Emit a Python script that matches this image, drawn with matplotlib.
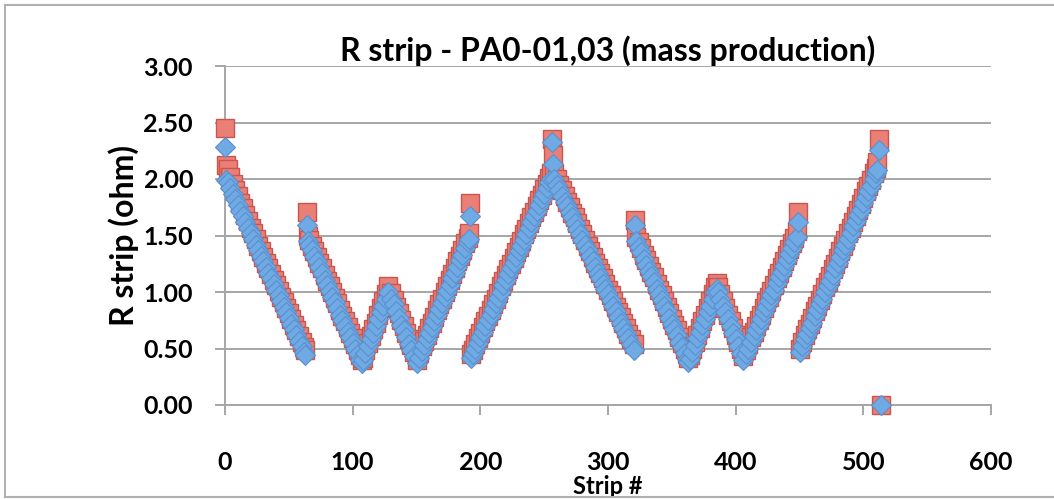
import matplotlib.pyplot as plt
from matplotlib.lines import Line2D

# strip numbers (every 2nd strip, plus the outlier strips at the segment ends)
strips = [0,
          1, 2, 4, 6, 8, 10, 12, 14, 16, 18, 20, 22, 24, 26, 28, 30, 32, 34, 36, 38, 40, 42, 44, 46, 48, 50, 52, 54, 56, 58, 60, 62, 63,
          64,
          65, 66, 68, 70, 72, 74, 76, 78, 80, 82, 84, 86, 88, 90, 92, 94, 96, 98, 100, 102, 104, 106, 107,
          108, 110, 112, 114, 116, 118, 120, 122, 124, 126, 128,
          130, 132, 134, 136, 138, 140, 142, 144, 146, 148, 150,
          152, 154, 156, 158, 160, 162, 164, 166, 168, 170, 172, 174, 176, 178, 180, 182, 184, 186, 188, 190, 191,
          192,
          193, 194, 196, 198, 200, 202, 204, 206, 208, 210, 212, 214, 216, 218, 220, 222, 224, 226, 228, 230, 232, 234, 236, 238, 240, 242, 244, 246, 248, 250, 252, 254, 255,
          256, 257,
          258, 260, 262, 264, 266, 268, 270, 272, 274, 276, 278, 280, 282, 284, 286, 288, 290, 292, 294, 296, 298, 300, 302, 304, 306, 308, 310, 312, 314, 316, 318, 320,
          321,
          322, 324, 326, 328, 330, 332, 334, 336, 338, 340, 342, 344, 346, 348, 350, 352, 354, 356, 358, 360, 362, 363,
          364, 366, 368, 370, 372, 374, 376, 378, 380, 382, 384, 385,
          386, 388, 390, 392, 394, 396, 398, 400, 402, 404, 406,
          408, 410, 412, 414, 416, 418, 420, 422, 424, 426, 428, 430, 432, 434, 436, 438, 440, 442, 444, 446, 448,
          449,
          450, 452, 454, 456, 458, 460, 462, 464, 466, 468, 470, 472, 474, 476, 478, 480, 482, 484, 486, 488, 490, 492, 494, 496, 498, 500, 502, 504, 506, 508, 510, 511,
          512, 514]

# PA0-01 (red squares), ohm
r_pa001 = [2.45,
           2.12, 2.09, 2.02, 1.96, 1.90, 1.85, 1.79, 1.74, 1.68, 1.63, 1.57, 1.52, 1.47, 1.41, 1.36, 1.31, 1.26, 1.21, 1.16, 1.11, 1.06, 1.01, 0.96, 0.91, 0.86, 0.81, 0.76, 0.71, 0.66, 0.61, 0.56, 0.51, 0.49,
           1.71,
           1.50, 1.46, 1.41, 1.36, 1.31, 1.26, 1.21, 1.15, 1.10, 1.05, 1.00, 0.95, 0.90, 0.84, 0.79, 0.74, 0.69, 0.64, 0.59, 0.54, 0.49, 0.44, 0.40,
           0.42, 0.49, 0.55, 0.61, 0.67, 0.73, 0.80, 0.86, 0.92, 0.98, 1.05,
           0.99, 0.93, 0.87, 0.81, 0.75, 0.70, 0.64, 0.58, 0.53, 0.47, 0.40,
           0.46, 0.52, 0.57, 0.62, 0.68, 0.73, 0.78, 0.84, 0.89, 0.94, 1.00, 1.05, 1.11, 1.16, 1.21, 1.27, 1.32, 1.37, 1.43, 1.48, 1.52,
           1.79,
           0.45, 0.49, 0.54, 0.59, 0.64, 0.69, 0.74, 0.79, 0.84, 0.89, 0.94, 0.99, 1.05, 1.10, 1.15, 1.20, 1.25, 1.30, 1.35, 1.40, 1.45, 1.51, 1.56, 1.61, 1.66, 1.71, 1.76, 1.81, 1.86, 1.91, 1.96, 2.01, 2.05,
           2.35, 2.21,
           2.05, 2.00, 1.95, 1.90, 1.85, 1.80, 1.75, 1.70, 1.66, 1.61, 1.56, 1.51, 1.46, 1.41, 1.36, 1.31, 1.26, 1.21, 1.17, 1.12, 1.07, 1.02, 0.97, 0.92, 0.87, 0.82, 0.78, 0.73, 0.68, 0.63, 0.58, 0.54,
           1.64,
           1.49, 1.44, 1.39, 1.33, 1.28, 1.23, 1.18, 1.13, 1.07, 1.02, 0.97, 0.92, 0.87, 0.81, 0.76, 0.71, 0.66, 0.60, 0.55, 0.50, 0.45, 0.42,
           0.44, 0.50, 0.56, 0.62, 0.68, 0.74, 0.80, 0.86, 0.92, 0.98, 1.04, 1.08,
           1.04, 0.98, 0.92, 0.86, 0.80, 0.74, 0.68, 0.62, 0.56, 0.50, 0.43,
           0.49, 0.54, 0.60, 0.65, 0.70, 0.75, 0.80, 0.86, 0.91, 0.96, 1.01, 1.06, 1.12, 1.17, 1.22, 1.27, 1.33, 1.38, 1.43, 1.48, 1.54,
           1.71,
           0.50, 0.56, 0.62, 0.67, 0.72, 0.77, 0.83, 0.88, 0.93, 0.98, 1.04, 1.09, 1.14, 1.20, 1.25, 1.30, 1.36, 1.41, 1.46, 1.52, 1.57, 1.62, 1.67, 1.73, 1.78, 1.83, 1.89, 1.94, 1.99, 2.05, 2.10, 2.15,
           2.35, 0.00]

# PA0-03 (blue diamonds), ohm
r_pa003 = [2.28,
           1.99, 1.97, 1.92, 1.87, 1.82, 1.77, 1.72, 1.67, 1.62, 1.57, 1.52, 1.47, 1.42, 1.37, 1.32, 1.27, 1.22, 1.17, 1.12, 1.07, 1.02, 0.97, 0.92, 0.87, 0.82, 0.77, 0.72, 0.67, 0.62, 0.57, 0.52, 0.47, 0.44,
           1.59,
           1.45, 1.42, 1.37, 1.32, 1.27, 1.22, 1.17, 1.11, 1.06, 1.01, 0.96, 0.91, 0.86, 0.80, 0.75, 0.70, 0.65, 0.60, 0.55, 0.50, 0.45, 0.40, 0.37,
           0.40, 0.46, 0.52, 0.58, 0.64, 0.70, 0.76, 0.82, 0.88, 0.94, 1.00,
           0.94, 0.89, 0.83, 0.77, 0.71, 0.66, 0.60, 0.54, 0.49, 0.43, 0.37,
           0.42, 0.48, 0.53, 0.58, 0.64, 0.69, 0.74, 0.80, 0.85, 0.90, 0.96, 1.01, 1.06, 1.12, 1.17, 1.22, 1.28, 1.33, 1.39, 1.44, 1.47,
           1.67,
           0.42, 0.45, 0.50, 0.55, 0.60, 0.65, 0.70, 0.75, 0.80, 0.85, 0.90, 0.95, 1.00, 1.06, 1.11, 1.16, 1.21, 1.26, 1.31, 1.36, 1.41, 1.46, 1.51, 1.57, 1.62, 1.67, 1.72, 1.77, 1.82, 1.87, 1.92, 1.97, 2.00,
           2.33, 2.13,
           2.00, 1.95, 1.90, 1.85, 1.80, 1.76, 1.71, 1.66, 1.61, 1.56, 1.51, 1.46, 1.42, 1.37, 1.32, 1.27, 1.22, 1.17, 1.12, 1.07, 1.03, 0.98, 0.93, 0.88, 0.83, 0.78, 0.73, 0.68, 0.64, 0.59, 0.54, 0.49,
           1.59,
           1.45, 1.40, 1.35, 1.29, 1.24, 1.19, 1.14, 1.09, 1.03, 0.98, 0.93, 0.88, 0.83, 0.77, 0.72, 0.67, 0.62, 0.56, 0.51, 0.46, 0.41, 0.38,
           0.41, 0.47, 0.53, 0.59, 0.65, 0.71, 0.76, 0.82, 0.88, 0.94, 1.00, 1.03,
           1.00, 0.94, 0.88, 0.82, 0.76, 0.70, 0.64, 0.58, 0.52, 0.46, 0.40,
           0.45, 0.50, 0.56, 0.61, 0.66, 0.71, 0.76, 0.82, 0.87, 0.92, 0.97, 1.02, 1.08, 1.13, 1.18, 1.23, 1.28, 1.34, 1.39, 1.44, 1.49,
           1.62,
           0.47, 0.52, 0.58, 0.63, 0.68, 0.73, 0.79, 0.84, 0.89, 0.94, 1.00, 1.05, 1.10, 1.15, 1.21, 1.26, 1.31, 1.37, 1.42, 1.47, 1.52, 1.58, 1.63, 1.68, 1.73, 1.79, 1.84, 1.89, 1.94, 2.00, 2.05, 2.08,
           2.26, 0.00]

yticks = [0.0, 0.5, 1.0, 1.5, 2.0, 2.5, 3.0]
xticks = [0, 100, 200, 300, 400, 500, 600]

plt.rcParams['font.family'] = ['Lato', 'DejaVu Sans']

fig = plt.figure(figsize=(10.54, 4.99), dpi=100)
ax = fig.add_axes([225 / 1054, 1 - 405 / 499, 766 / 1054, 339 / 499])

grid_col = '#a6a6a6'
ax.plot(strips, r_pa001, linestyle='none', marker='s', markersize=13.5,
        markerfacecolor='#ea7f76', markeredgecolor='#c9564e', markeredgewidth=1.0,
        zorder=3, clip_on=False)
ax.plot(strips, r_pa003, linestyle='none', marker='D', markersize=10.5,
        markerfacecolor='#70aae4', markeredgecolor='#5a8fcc', markeredgewidth=0.8,
        zorder=4, clip_on=False)

ax.set_xlim(0, 600)
ax.set_ylim(0, 3.0)
ax.set_xticks(xticks)
ax.set_yticks(yticks)
ax.set_yticklabels(['%.2f' % v for v in yticks])
ax.yaxis.grid(True, color=grid_col, linewidth=1.4)
ax.set_axisbelow(True)

for s in ['top', 'right']:
    ax.spines[s].set_visible(False)
for s in ['left', 'bottom']:
    ax.spines[s].set_color(grid_col)
    ax.spines[s].set_linewidth(1.4)

ax.tick_params(axis='both', direction='out', length=7, width=1.4, color=grid_col,
               labelsize=18)
ax.tick_params(axis='x', pad=26)
ax.tick_params(axis='y', pad=16)
for lab in ax.get_xticklabels() + ax.get_yticklabels():
    lab.set_fontweight('bold')

ax.set_title('R strip - PA0-01,03 (mass production)', fontsize=23, fontweight='bold', pad=3)
ax.set_xlabel('Strip #', fontsize=17, fontweight='bold', labelpad=1)
ax.set_ylabel('R strip (ohm)', fontsize=23, fontweight='bold', labelpad=3)

# chart area border
border = '#b0b0b0'
fig.add_artist(Line2D([5 / 1054, 1.0], [1 - 5 / 499, 1 - 5 / 499], color=border, lw=1.5))
fig.add_artist(Line2D([5 / 1054, 5 / 1054], [1 - 5 / 499, 1 - 497 / 499], color=border, lw=1.5))
fig.add_artist(Line2D([5 / 1054, 1.0], [1 - 497 / 499, 1 - 497 / 499], color=border, lw=1.5))

fig.savefig('out.png', dpi=100)
